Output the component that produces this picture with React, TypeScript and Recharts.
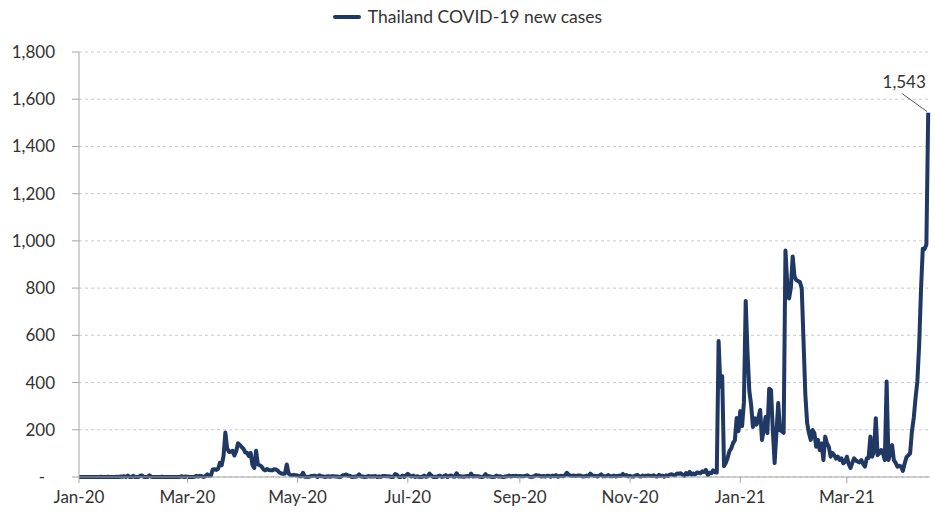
import React from "react";
import {
  CartesianGrid,
  Line,
  LineChart,
  XAxis,
  YAxis,
} from "recharts";

// daily new cases, one array per month
const jan20 = [0, 0, 0, 0, 0, 0, 0, 0, 0, 0, 0, 0, 1, 0, 0, 0, 1, 0, 0, 0, 0, 1, 0, 2, 1, 3, 0, 6, 0, 0, 5];
const feb20 = [0, 0, 0, 6, 6, 0, 0, 0, 7, 1, 0, 0, 0, 0, 0, 1, 0, 0, 0, 0, 0, 0, 0, 0, 0, 1, 3, 0, 2];
const mar20 = [1, 0, 0, 0, 1, 5, 2, 5, 3, 0, 4, 11, 5, 6, 32, 33, 30, 35, 60, 50, 89, 188, 122, 106, 107, 111, 91, 109, 143, 136, 127];
const apr20 = [120, 104, 103, 89, 102, 51, 38, 111, 54, 50, 45, 33, 28, 34, 30, 29, 28, 33, 32, 27, 19, 15, 13, 15, 53, 15, 9, 7, 9, 7];
const may20 = [6, 3, 3, 18, 1, 1, 0, 3, 4, 5, 5, 0, 7, 3, 3, 0, 2, 3, 1, 3, 3, 2, 2, 0, 1, 7, 8, 11, 4, 5, 0];
const jun20 = [1, 1, 3, 11, 2, 2, 0, 1, 4, 2, 3, 2, 4, 0, 2, 1, 4, 4, 3, 3, 2, 0, 0, 12, 9, 0, 0, 6, 0, 7];
const jul20 = [13, 6, 2, 6, 0, 3, 1, 0, 1, 6, 1, 2, 14, 6, 0, 1, 0, 5, 5, 0, 3, 8, 0, 5, 6, 2, 1, 16, 2, 3, 2];
const aug20 = [1, 3, 4, 2, 14, 2, 4, 3, 3, 1, 0, 2, 12, 2, 4, 1, 0, 1, 6, 2, 3, 1, 0, 2, 3, 6, 2, 4, 4, 5, 3];
const sep20 = [4, 3, 3, 5, 7, 3, 0, 1, 4, 8, 6, 5, 2, 4, 2, 5, 5, 1, 6, 3, 8, 1, 4, 5, 3, 7, 18, 9, 5, 5];
const oct20 = [6, 4, 6, 6, 5, 2, 3, 6, 3, 14, 7, 5, 4, 2, 6, 11, 3, 3, 5, 8, 3, 3, 6, 2, 4, 6, 4, 13, 6, 8, 3];
const nov20 = [5, 2, 2, 6, 9, 3, 2, 6, 4, 5, 7, 5, 4, 7, 3, 2, 9, 4, 6, 1, 7, 4, 10, 12, 8, 7, 15, 14, 16, 10];
const dec20 = [5, 17, 11, 22, 10, 15, 11, 19, 18, 16, 24, 21, 30, 8, 18, 16, 28, 20, 19, 576, 382, 427, 46, 60, 80, 110, 121, 144, 155, 250, 194];
const jan21 = [279, 216, 315, 745, 527, 365, 305, 212, 249, 222, 250, 284, 157, 200, 254, 186, 374, 368, 198, 59, 187, 313, 198, 194, 187, 959, 819, 756, 802, 934, 850];
const feb21 = [834, 830, 826, 800, 577, 350, 229, 186, 157, 199, 186, 128, 157, 114, 142, 72, 171, 142, 128, 86, 101, 93, 78, 86, 72, 79, 58, 65];
const mar21 = [86, 55, 38, 60, 79, 70, 65, 62, 72, 55, 44, 79, 80, 171, 86, 110, 249, 93, 100, 114, 100, 72, 404, 72, 100, 135, 72, 60, 44, 48, 44];
const apr21 = [26, 58, 84, 92, 100, 194, 250, 334, 405, 559, 789, 967, 965, 985, 1543];

// day offsets (from 1 Jan 2020) of the labelled month starts
const tickDays = [0, 60, 121, 182, 244, 305, 366, 425];
const tickLabels = ["Jan-20", "Mar-20", "May-20", "Jul-20", "Sep-20", "Nov-20", "Jan-21", "Mar-21"];
const yTicks = [0, 200, 400, 600, 800, 1000, 1200, 1400, 1600, 1800];

const seriesName = "Thailand COVID-19 new cases";
const LINE = "#1f3864";
const FONT = "Lato, 'Open Sans', sans-serif";

const newCases = [
  ...jan20, ...feb20, ...mar20, ...apr20, ...may20, ...jun20,
  ...jul20, ...aug20, ...sep20, ...oct20, ...nov20, ...dec20,
  ...jan21, ...feb21, ...mar21, ...apr21,
];
const data = newCases.map((cases, day) => ({ day, cases }));
const lastIndex = data.length - 1;

const YTick = (props: any) => {
  const { x, y, payload } = props;
  const v = payload.value as number;
  const text = v === 0 ? "-" : v.toLocaleString("en-US");
  return (
    <text
      x={v === 0 ? x - 10 : x}
      y={y}
      dy={6}
      textAnchor="end"
      fill="#333"
      fontSize={17}
      fontFamily={FONT}
    >
      {text}
    </text>
  );
};

const EndLabel = (props: any) => {
  const { x, y, index, value } = props;
  if (index !== lastIndex) return null;
  return (
    <g>
      <line x1={x - 1} y1={y - 1} x2={x - 26} y2={y - 19} stroke="#555" strokeWidth={1} />
      <text
        x={x - 24}
        y={y - 25}
        textAnchor="middle"
        fill="#333"
        fontSize={17}
        fontFamily={FONT}
      >
        {Number(value).toLocaleString("en-US")}
      </text>
    </g>
  );
};

export default function App() {
  return (
    <div style={{ position: "absolute", left: 0, top: 0, width: 935, height: 518, background: "#fff" }}>
      <div
        style={{
          position: "absolute",
          top: 6,
          left: 0,
          width: 935,
          display: "flex",
          justifyContent: "center",
          alignItems: "center",
          fontFamily: FONT,
          fontSize: 17.5,
          color: "#333",
        }}
      >
        <span
          style={{
            display: "inline-block",
            width: 28,
            height: 4,
            background: LINE,
            borderRadius: 2,
            marginRight: 7,
          }}
        />
        {seriesName}
      </div>
      <LineChart
        width={935}
        height={518}
        data={data}
        margin={{ top: 52, right: 5, bottom: 0, left: 0 }}
      >
        <CartesianGrid
          vertical={false}
          stroke="#c9c9c9"
          strokeDasharray="3 3"
        />
        <XAxis
          type="number"
          dataKey="day"
          domain={[0, 471]}
          ticks={tickDays}
          tickFormatter={(d: number) => tickLabels[tickDays.indexOf(d)] ?? ""}
          interval={0}
          height={41}
          tickSize={6}
          tickMargin={8}
          stroke="#a6a6a6"
          tick={{ fill: "#333", fontSize: 17, fontFamily: FONT }}
        />
        <YAxis
          type="number"
          domain={[0, 1800]}
          ticks={yTicks}
          interval={0}
          width={79}
          tickSize={7}
          tickMargin={17}
          stroke="#a6a6a6"
          tick={<YTick />}
        />
        <Line
          type="linear"
          dataKey="cases"
          name={seriesName}
          stroke={LINE}
          strokeWidth={4}
          strokeLinejoin="round"
          dot={false}
          activeDot={false}
          isAnimationActive={false}
          label={<EndLabel />}
        />
      </LineChart>
    </div>
  );
}
